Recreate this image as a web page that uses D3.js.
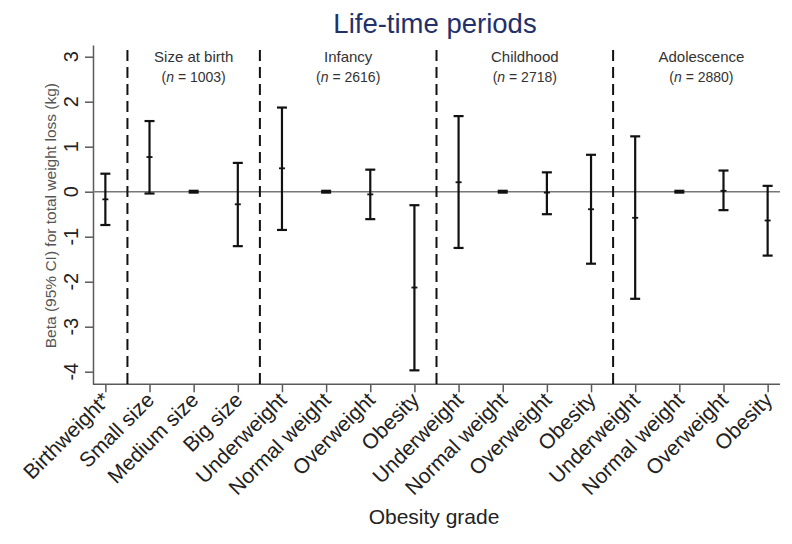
<!DOCTYPE html>
<html><head><meta charset="utf-8">
<script src="https://cdn.jsdelivr.net/npm/d3@7"></script>
<style>body{margin:0;background:#fff}svg{display:block;font-family:"Liberation Sans",Arial,sans-serif}</style>
</head><body><svg id="c" width="792" height="544"></svg>
<script>
const categories = ["Birthweight*","Small size","Medium size","Big size","Underweight","Normal weight","Overweight","Obesity","Underweight","Normal weight","Overweight","Obesity","Underweight","Normal weight","Overweight","Obesity"];
const beta  = [-0.17, 0.77, 0, -0.28, 0.52, 0, -0.06, -2.13, 0.21, 0, -0.02, -0.39, -0.58, 0, 0.02, -0.64];
const lower = [-0.74, -0.04, -0.02, -1.21, -0.85, -0.02, -0.61, -3.97, -1.25, -0.02, -0.50, -1.60, -2.38, -0.02, -0.41, -1.42];
const upper = [0.40, 1.57, 0.02, 0.64, 1.87, 0.02, 0.49, -0.30, 1.68, 0.02, 0.43, 0.82, 1.23, 0.02, 0.47, 0.13];
const periods = ["Size at birth","Infancy","Childhood","Adolescence"];
const periodN = ["1003","2616","2718","2880"];
const periodStart = [1,4,8,12];
const periodEnd = [3,7,11,15];
const yTicks = [3,2,1,0,-1,-2,-3,-4];

(function(){
const svg = d3.select("#c");
const L = 93, R = 780, T = 45, B = 384.3;
const idx = d3.range(categories.length);
const x = d3.scalePoint().domain(idx).range([L, R]).padding(0.28);
const y = d3.scaleLinear().domain([-4.28, 3.26]).range([B, T]);
const step = x.step();
const axisCol = "#5a5a5a";

// title
svg.append("text").attr("x", 435).attr("y", 33).attr("text-anchor","middle")
  .attr("font-size", 27.5).attr("fill", "#23306a").text("Life-time periods");

// y axis
const ya = svg.append("g").attr("transform", `translate(${L},0)`)
  .call(d3.axisLeft(y).tickValues(yTicks).tickSize(8).tickSizeOuter(0).tickFormat(""));
ya.select(".domain").attr("stroke", axisCol).attr("stroke-width", 1.5);
ya.selectAll(".tick line").attr("stroke", axisCol).attr("stroke-width", 1.5);
svg.append("g").selectAll("text").data(yTicks).join("text")
  .attr("transform", d => `translate(78,${y(d)}) rotate(-90)`)
  .attr("text-anchor","middle").attr("font-size", 20).attr("fill","#222")
  .text(d => d);

// x axis
const xa = svg.append("g").attr("transform", `translate(0,${B})`)
  .call(d3.axisBottom(x).tickSize(8).tickSizeOuter(0).tickFormat(""));
xa.select(".domain").attr("stroke", axisCol).attr("stroke-width", 1.5).attr("d", `M${L},0H${R}`);
xa.selectAll(".tick line").attr("stroke", axisCol).attr("stroke-width", 1.5);
svg.append("g").selectAll("text").data(idx).join("text")
  .attr("transform", i => `translate(${x(i)+6},${B+17}) rotate(-45)`)
  .attr("text-anchor","end").attr("font-size", 21).attr("fill","#222")
  .text(i => categories[i]);

// axis titles
svg.append("text").attr("transform", `translate(56,${(T+B)/2+1}) rotate(-90)`)
  .attr("text-anchor","middle").attr("font-size", 15.5).attr("fill","#555")
  .text("Beta (95% CI) for total weight loss (kg)");
svg.append("text").attr("x", 434).attr("y", 524).attr("text-anchor","middle")
  .attr("font-size", 21).attr("fill","#222").text("Obesity grade");

// zero line
svg.append("line").attr("x1", L).attr("x2", R).attr("y1", y(0)).attr("y2", y(0))
  .attr("stroke", "#777").attr("stroke-width", 1.5);

// dashed separators
svg.append("g").selectAll("line").data(periodStart).join("line")
  .attr("x1", d => x(d) - step/2).attr("x2", d => x(d) - step/2)
  .attr("y1", T + 5).attr("y2", B)
  .attr("stroke", "#111").attr("stroke-width", 2).attr("stroke-dasharray", "11,6");

// period labels
const pl = svg.append("g").selectAll("g").data(d3.range(periods.length)).join("g")
  .attr("transform", i => `translate(${(x(periodStart[i]) + x(periodEnd[i]))/2},0)`);
pl.append("text").attr("y", 62).attr("text-anchor","middle").attr("font-size", 15).attr("fill","#333")
  .text(i => periods[i]);
const nt = pl.append("text").attr("y", 82).attr("text-anchor","middle").attr("font-size", 14).attr("fill","#333");
nt.append("tspan").text("(");
nt.append("tspan").attr("font-style","italic").text("n");
nt.append("tspan").text(i => " = " + periodN[i] + ")");

// error bars
const cap = 5;
const eb = svg.append("g").attr("stroke", "#111").attr("stroke-width", 2.2);
eb.selectAll(".v").data(idx).join("line").attr("class","v")
  .attr("x1", i => x(i)).attr("x2", i => x(i)).attr("y1", i => y(upper[i])).attr("y2", i => y(lower[i]));
eb.selectAll(".u").data(idx).join("line").attr("class","u")
  .attr("x1", i => x(i)-cap).attr("x2", i => x(i)+cap).attr("y1", i => y(upper[i])).attr("y2", i => y(upper[i]));
eb.selectAll(".l").data(idx).join("line").attr("class","l")
  .attr("x1", i => x(i)-cap).attr("x2", i => x(i)+cap).attr("y1", i => y(lower[i])).attr("y2", i => y(lower[i]));
eb.selectAll(".p").data(idx).join("line").attr("class","p")
  .attr("x1", i => x(i)-3).attr("x2", i => x(i)+3).attr("y1", i => y(beta[i])).attr("y2", i => y(beta[i]))
  .attr("stroke-width", 1.8);
})();
</script></body></html>
